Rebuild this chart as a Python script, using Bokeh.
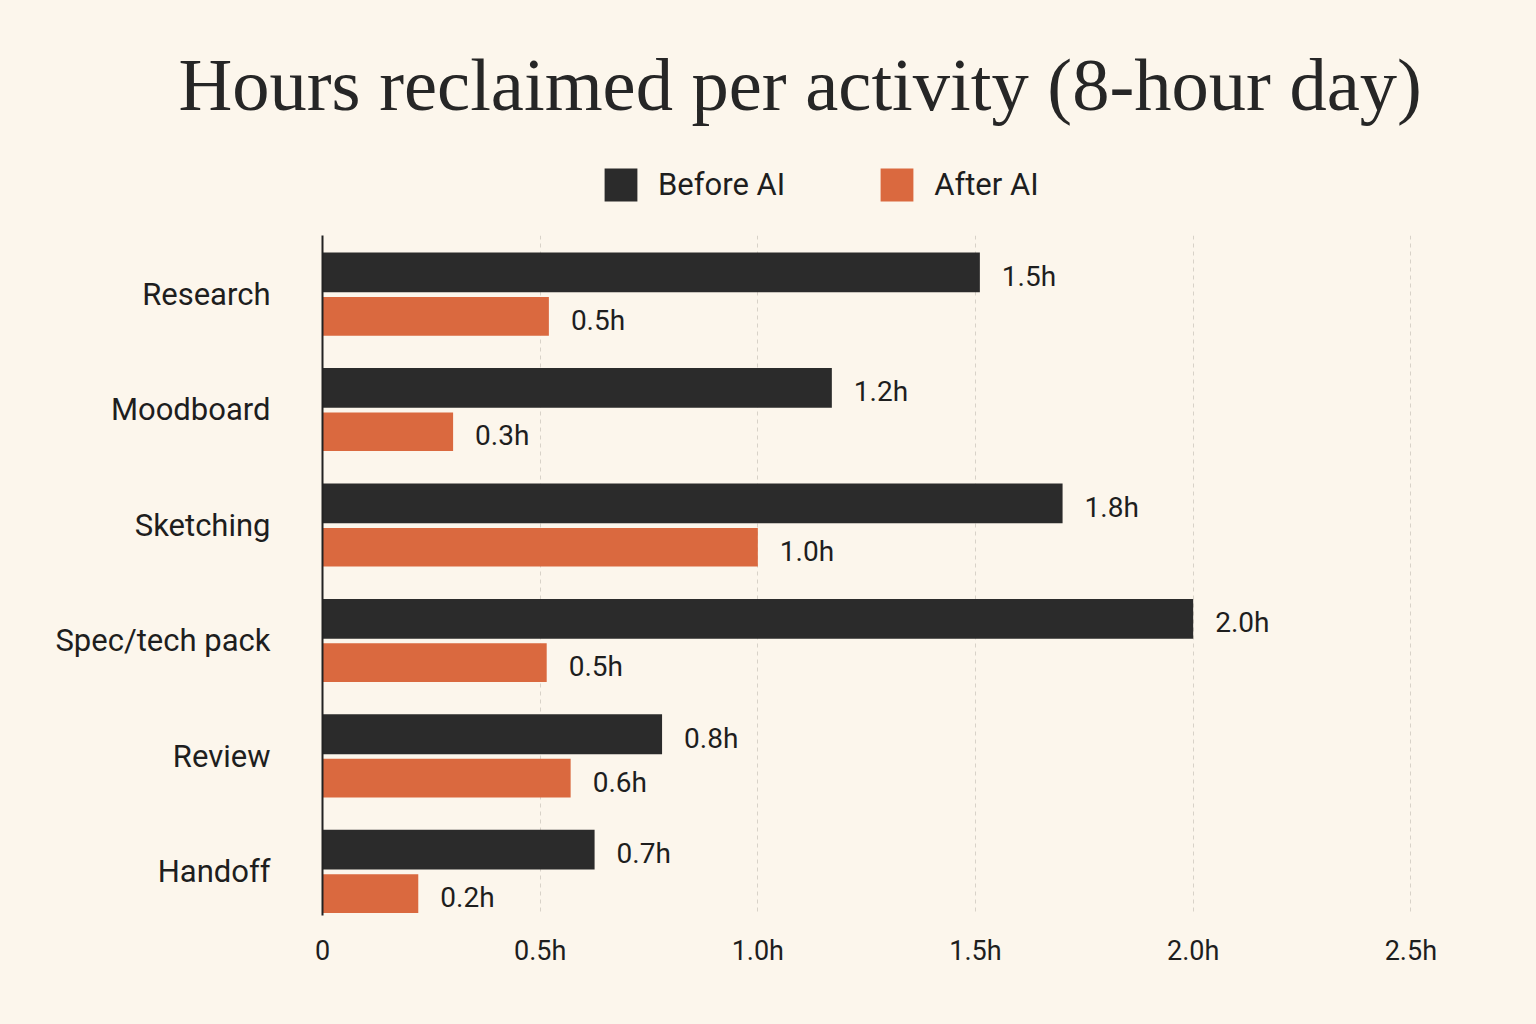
from bokeh.plotting import figure
from bokeh.layouts import column
from bokeh.models import (ColumnDataSource, Range1d, FixedTicker, CustomJSTickFormatter,
                          Legend, LegendItem)
from bokeh.core.properties import value
from bokeh.embed import file_html
from bokeh.resources import INLINE

categories = ["Research", "Moodboard", "Sketching", "Spec/tech pack", "Review", "Handoff"]
before_ai = [1.51, 1.17, 1.70, 2.00, 0.78, 0.625]
after_ai = [0.52, 0.30, 1.00, 0.515, 0.57, 0.22]
before_labels = ["1.5h", "1.2h", "1.8h", "2.0h", "0.8h", "0.7h"]
after_labels = ["0.5h", "0.3h", "1.0h", "0.5h", "0.6h", "0.2h"]
x_ticks = [0, 0.5, 1.0, 1.5, 2.0, 2.5]
series_names = ["Before AI", "After AI"]
title_text = "Hours reclaimed per activity (8-hour day)"

BG = "#fcf6ec"
DARK = "#2b2b2b"
ORANGE = "#da693f"
TXT = "#1e1e1e"

# ---------- header: title + legend ----------
header = figure(width=1536, height=235, output_backend="svg", toolbar_location=None,
                x_range=Range1d(0, 1), y_range=Range1d(0, 1),
                min_border_top=130, min_border_bottom=0, min_border_left=322, min_border_right=56,
                background_fill_color=BG, border_fill_color=BG, outline_line_color=None)
header.axis.visible = False
header.grid.visible = False
hb = header.rect(x=[-5], y=[-5], width=1, height=1, fill_color=DARK, line_color=None)
ha = header.rect(x=[-5], y=[-5], width=1, height=1, fill_color=ORANGE, line_color=None)

header.title.text = title_text
header.title.text_font = "Liberation Serif"
header.title.text_font_size = "74.5px"
header.title.text_font_style = "normal"
header.title.text_color = "#262626"
header.title.align = "left"
header.title.offset = -144
header.title.standoff = 10

legend = Legend(items=[LegendItem(label=series_names[0], renderers=[hb]),
                       LegendItem(label=series_names[1], renderers=[ha])],
                orientation="horizontal", location=(278, 30),
                glyph_width=41, glyph_height=41, label_standoff=17, spacing=91,
                padding=0, margin=0, border_line_color=None, background_fill_alpha=0,
                label_text_font="Roboto", label_text_font_size="31px", label_text_color=TXT,
                label_height=41)
header.add_layout(legend)

# ---------- main chart ----------
pos = list(range(len(categories)))
off = 0.19
src_b = ColumnDataSource(dict(y=[p - off for p in pos], x=before_ai, t=before_labels))
src_a = ColumnDataSource(dict(y=[p + off for p in pos], x=after_ai, t=after_labels))

p = figure(width=1536, height=789, output_backend="svg", toolbar_location=None,
           x_range=Range1d(0, 2.66), y_range=Range1d(5.38, -0.51),
           min_border_left=322, min_border_right=56, min_border_top=0, min_border_bottom=109,
           background_fill_color=BG, border_fill_color=BG, outline_line_color=None)

p.hbar(y="y", right="x", left=0, height=0.345, source=src_b, fill_color=DARK, line_color=None)
p.hbar(y="y", right="x", left=0, height=0.335, source=src_a, fill_color=ORANGE, line_color=None)

for s in (src_b, src_a):
    p.text(x="x", y="y", text="t", source=s, x_offset=22, y_offset=4, text_align="left",
           text_baseline="middle", text_font=value("Roboto"), text_font_size="28px", text_color=TXT)

p.yaxis.ticker = FixedTicker(ticks=pos)
p.yaxis.major_label_overrides = {i: c for i, c in enumerate(categories)}
p.yaxis.major_label_text_font = "Roboto"
p.yaxis.major_label_text_font_size = "31px"
p.yaxis.major_label_text_color = TXT
p.yaxis.major_tick_line_color = None
p.yaxis.minor_tick_line_color = None
p.yaxis.major_label_standoff = 46
p.yaxis.axis_line_color = "#222222"
p.yaxis.axis_line_width = 2

p.xaxis.ticker = FixedTicker(ticks=x_ticks)
p.xaxis.formatter = CustomJSTickFormatter(code="return tick == 0 ? '0' : tick.toFixed(1) + 'h';")
p.xaxis.major_label_text_font = "Roboto"
p.xaxis.major_label_text_font_size = "27px"
p.xaxis.major_label_text_color = TXT
p.xaxis.axis_line_color = None
p.xaxis.major_tick_line_color = None
p.xaxis.minor_tick_line_color = None
p.xaxis.major_label_standoff = 13

p.ygrid.grid_line_color = None
p.xgrid.ticker = FixedTicker(ticks=x_ticks)
p.xgrid.grid_line_color = "#d8d2c8"
p.xgrid.grid_line_dash = "4 4"
p.xgrid.grid_line_width = 1

layout = column(header, p, spacing=0, styles={"background-color": BG})
open("out.html", "w").write(file_html(layout, INLINE))
